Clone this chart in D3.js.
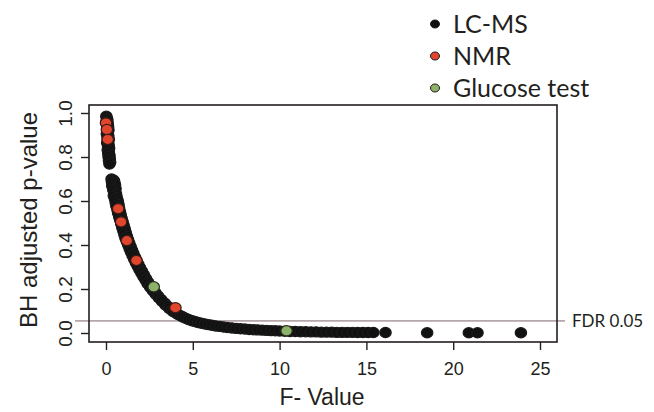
<!DOCTYPE html>
<html><head><meta charset="utf-8">
<script src="https://cdn.jsdelivr.net/npm/d3@7"></script>
<style>body{margin:0;background:#fff}svg{display:block}</style>
</head><body><div id="chart"></div>
<script>
// ---- data ----
const lcmsF = [0.02,0.05,0.08,0.03,0.10,0.06,0.12,0.08,0.14,0.10,0.05,0.13,0.09,0.16,0.11,0.07,0.15,0.12,0.18,0.10,0.16,0.13,0.20,0.15,0.22,0.17,0.24,0.20,
 0.32,0.40,0.46,0.34,0.48,0.38,0.52,0.36,0.44,0.55,0.42,
 0.48,0.58,0.45,0.62,0.52,0.68,0.56,0.72,0.60,0.75,0.66,0.80,0.70,0.85,0.76,0.90,0.82,0.96,0.88,1.02,0.94,1.08,1.00,1.14,1.06,1.20,1.12,1.27,1.20,1.34,1.28,1.42,1.36,1.50,1.44,1.58,1.53,1.67,1.62,1.76,1.72,1.86,1.82,1.96,1.93,2.07,2.04,2.18,2.16,2.30,2.28,2.42,2.40,2.55,2.54,2.68,2.70,2.84,2.86,3.00,3.04,3.18,3.22,3.38,3.42,3.58,3.64,3.80,3.88,4.05,4.15,4.32,4.45,4.62,4.78,4.95,5.12,5.30,5.50,5.70,5.90,6.10,6.32,6.55,6.78,7.00,7.25,7.50,7.75,8.00,8.25,8.50,8.75,9.00,9.25,9.50,9.75,10.0,10.3,10.6,10.9,11.2,11.5,11.8,12.1,12.4,12.7,13.0,13.3,13.6,13.9,14.2,14.5,14.8,15.1,15.4,16.1,18.5,20.9,21.4,23.9];
const lcmsP = [0.985,0.975,0.968,0.960,0.952,0.945,0.938,0.930,0.922,0.915,0.905,0.897,0.888,0.880,0.872,0.864,0.856,0.848,0.840,0.832,0.824,0.816,0.808,0.800,0.792,0.784,0.776,0.768,
 0.700,0.696,0.692,0.688,0.683,0.678,0.673,0.668,0.662,0.656,0.650,
 0.640,0.632,0.624,0.616,0.608,0.600,0.592,0.584,0.576,0.568,0.560,0.552,0.544,0.536,0.528,0.520,0.512,0.504,0.496,0.488,0.480,0.472,0.464,0.456,0.448,0.440,0.432,0.424,0.416,0.408,0.400,0.392,0.384,0.376,0.368,0.360,0.352,0.344,0.336,0.328,0.320,0.312,0.304,0.296,0.288,0.280,0.272,0.264,0.256,0.248,0.240,0.232,0.224,0.216,0.208,0.200,0.192,0.184,0.176,0.168,0.160,0.152,0.144,0.136,0.128,0.120,0.112,0.104,0.097,0.090,0.084,0.078,0.072,0.066,0.061,0.056,0.052,0.048,0.044,0.041,0.038,0.035,0.032,0.030,0.027,0.025,0.023,0.021,0.019,0.018,0.016,0.015,0.014,0.013,0.012,0.011,0.010,0.009,0.008,0.007,0.007,0.006,0.006,0.005,0.005,0.004,0.004,0.004,0.003,0.003,0.003,0.003,0.002,0.002,0.002,0.002,0.002,0.001,0.001,0.001,0.001];
const nmrF = [0.0,0.05,0.10,0.70,0.87,1.20,1.75,4.0];
const nmrP = [0.955,0.925,0.880,0.565,0.505,0.420,0.330,0.115];
const glucF = [2.75,10.4];
const glucP = [0.21,0.01];
const xTicks = [0,5,10,15,20,25];
const yTicks = [0.0,0.2,0.4,0.6,0.8,1.0];
const fdr = 0.055;
const legendLabels = ["LC-MS","NMR","Glucose test"];
const legendColors = ["#111111","#e0452e","#8db36a"];

// ---- layout ----
const W=654,H=412;
const box={l:89,r:557,t:105,b:342};
const xs=d3.scaleLinear().domain([0,25]).range([106,540]);
const ys=d3.scaleLinear().domain([0,1]).range([333,113]);

const svg=d3.select("#chart").append("svg").attr("width",W).attr("height",H);
const font="'Liberation Sans', Arial, sans-serif";
const font2="Lato, 'Open Sans', sans-serif";

// FDR line
svg.append("line").attr("x1",75).attr("x2",565).attr("y1",ys(fdr)).attr("y2",ys(fdr))
  .attr("stroke","#b5a7aa").attr("stroke-width",1.6);
svg.append("text").attr("x",572).attr("y",ys(fdr)+6).attr("font-family",font2)
  .attr("font-size",17).attr("fill","#231f20").text("FDR 0.05");

// points
function pts(F,P,color,stroke){
  const n=Math.min(F.length,P.length);
  const d=F.slice(0,n).map((f,i)=>[f,P[i]]);
  svg.append("g").selectAll("ellipse").data(d).join("ellipse")
   .attr("cx",v=>xs(v[0])).attr("cy",v=>ys(v[1])).attr("rx",5.7).attr("ry",5.1)
   .attr("fill",color).attr("stroke",stroke).attr("stroke-width",1.2);
}
pts(lcmsF,lcmsP,"#111111","#1a1a1a");
pts(nmrF,nmrP,"#e0452e","#3a1a14");
pts(glucF,glucP,"#8db36a","#2a3020");

// box
svg.append("rect").attr("x",box.l).attr("y",box.t).attr("width",box.r-box.l).attr("height",box.b-box.t)
  .attr("fill","none").attr("stroke","#231f20").attr("stroke-width",1.6);

// x axis
const xa=svg.append("g").attr("transform",`translate(0,${box.b})`)
  .call(d3.axisBottom(xs).tickValues(xTicks).tickSize(8).tickFormat(d3.format("d")));
xa.select(".domain").remove();
xa.selectAll("line").attr("stroke","#231f20").attr("stroke-width",1.4);
xa.selectAll("text").attr("font-family",font).attr("font-size",18).attr("fill","#231f20").attr("dy","1.2em");

// y axis
const ya=svg.append("g").attr("transform",`translate(${box.l},0)`)
  .call(d3.axisLeft(ys).tickValues(yTicks).tickSize(8).tickFormat(d3.format(".1f")));
ya.select(".domain").remove();
ya.selectAll("line").attr("stroke","#231f20").attr("stroke-width",1.4);
ya.selectAll("text").attr("font-family",font).attr("font-size",19).attr("fill","#231f20")
  .attr("x",null).attr("dy",null).attr("text-anchor","middle")
  .attr("transform","translate(-17,0) rotate(-90)");

// axis titles
svg.append("text").attr("transform","translate(37,220) rotate(-90)").attr("text-anchor","middle")
  .attr("font-family",font).attr("font-size",24).attr("fill","#231f20").text("BH adjusted p-value");
svg.append("text").attr("x",322).attr("y",405).attr("text-anchor","middle")
  .attr("font-family",font).attr("font-size",23).attr("fill","#231f20").text("F- Value");

// legend
const lg=svg.append("g");
legendLabels.forEach((t,i)=>{
  const yy=24+i*32;
  lg.append("ellipse").attr("cx",435).attr("cy",yy).attr("rx",4.5).attr("ry",4)
    .attr("fill",legendColors[i]).attr("stroke","#1a1a1a").attr("stroke-width",1);
  lg.append("text").attr("x",453).attr("y",yy+9).attr("font-family",font2).attr("font-size",25)
    .attr("fill","#231f20").text(t);
});
</script>
</body></html>
